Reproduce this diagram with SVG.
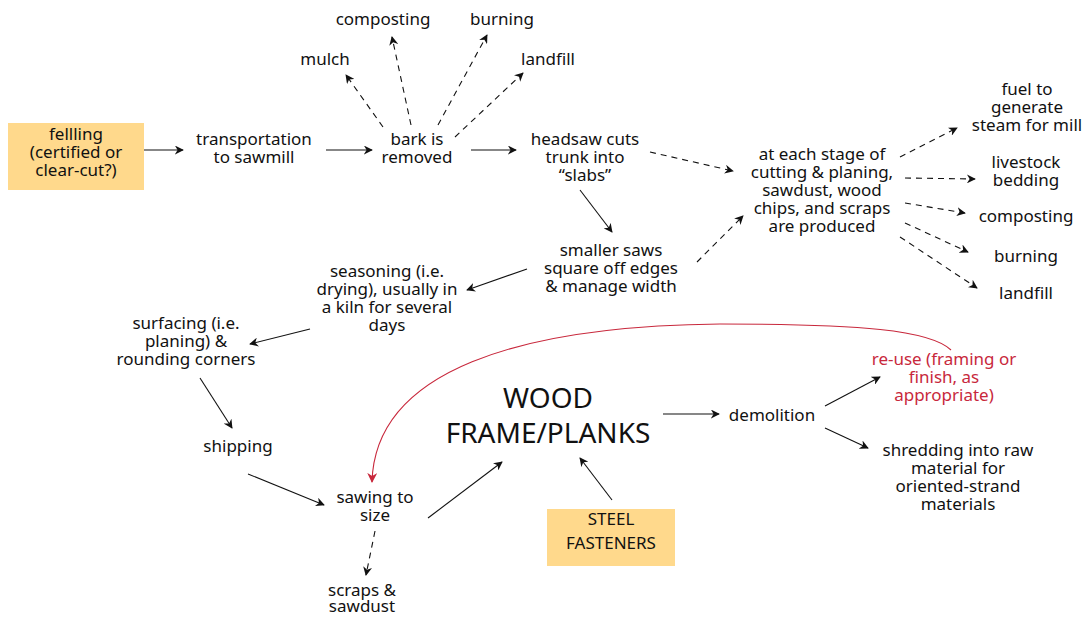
<svg xmlns="http://www.w3.org/2000/svg" width="1088" height="617" viewBox="0 0 1088 617">
<style>
text{font-family:"Noto Sans","Liberation Sans",sans-serif;font-size:17px;fill:#111;text-anchor:middle}
.big{font-size:28px}
.red{fill:#c8283c}
.box{fill:#ffd98c}
.c{stroke:#111;stroke-width:1.1;fill:none;marker-end:url(#ah)}
.d{stroke-dasharray:6 5}
.rc{stroke:#c8283c;stroke-width:1.1;fill:none;marker-end:url(#ahr)}
</style>
<defs>
<marker id="ah" viewBox="0 0 10 10" refX="9" refY="5" markerWidth="9" markerHeight="9" markerUnits="userSpaceOnUse" orient="auto"><path d="M0,0 L10,5 L0,10 L3,5 z" fill="#111"/></marker>
<marker id="ahr" viewBox="0 0 10 10" refX="9" refY="5" markerWidth="10" markerHeight="10" markerUnits="userSpaceOnUse" orient="auto"><path d="M0,0 L10,5 L0,10 L3,5 z" fill="#c8283c"/></marker>
</defs>
<rect width="1088" height="617" fill="#fff"/>
<g id="connectors">
<line class="c" x1="141" y1="150" x2="183" y2="150"/>
<line class="c" x1="326" y1="150" x2="372" y2="150"/>
<line class="c" x1="471" y1="150" x2="516" y2="150"/>
<line class="c d" x1="383" y1="127" x2="346" y2="75"/>
<line class="c d" x1="411" y1="125" x2="392" y2="37"/>
<line class="c d" x1="438" y1="125" x2="487" y2="35"/>
<line class="c d" x1="455" y1="137" x2="523" y2="73"/>
<line class="c d" x1="650" y1="152" x2="733" y2="171"/>
<line class="c" x1="580" y1="190" x2="612" y2="232"/>
<line class="c d" x1="697" y1="262" x2="743" y2="216"/>
<line class="c" x1="527" y1="269" x2="467" y2="290"/>
<line class="c" x1="310" y1="329" x2="250" y2="344"/>
<line class="c" x1="200" y1="378" x2="232" y2="428"/>
<line class="c" x1="248" y1="474" x2="324" y2="505"/>
<line class="c" x1="428" y1="518" x2="502" y2="462"/>
<line class="c d" x1="375" y1="531" x2="366" y2="575"/>
<line class="c" x1="612" y1="500" x2="580" y2="458"/>
<line class="c" x1="663" y1="414" x2="719" y2="414"/>
<line class="c" x1="825" y1="406" x2="880" y2="377"/>
<line class="c" x1="825" y1="428" x2="868" y2="448"/>
<line class="c d" x1="900" y1="157" x2="957" y2="128"/>
<line class="c d" x1="905" y1="178" x2="975" y2="179"/>
<line class="c d" x1="905" y1="203" x2="965" y2="213"/>
<line class="c d" x1="905" y1="223" x2="968" y2="252"/>
<line class="c d" x1="900" y1="237" x2="977" y2="288"/>
<path class="rc" d="M951,350 C930,330 860,324 720,324 C520,326 375,370 372,482"/>
</g>
<g id="felling"><rect class="box" x="8" y="123" width="136" height="67"/><text x="76" y="140">fellling</text><text x="76" y="158">(certified or</text><text x="76" y="176">clear-cut?)</text></g>
<g id="transport"><text x="254" y="145">transportation</text><text x="254" y="163">to sawmill</text></g>
<g id="bark"><text x="417" y="145">bark is</text><text x="417" y="163">removed</text></g>
<g id="mulch"><text x="325" y="65">mulch</text></g>
<g id="composting1"><text x="383" y="25">composting</text></g>
<g id="burning1"><text x="502" y="25">burning</text></g>
<g id="landfill1"><text x="548" y="65">landfill</text></g>
<g id="headsaw"><text x="585" y="145">headsaw cuts</text><text x="585" y="163">trunk into</text><text x="585" y="181">“slabs”</text></g>
<g id="stage"><text x="822" y="160">at each stage of</text><text x="822" y="178">cutting &amp; planing,</text><text x="822" y="196">sawdust, wood</text><text x="822" y="214">chips, and scraps</text><text x="822" y="232">are produced</text></g>
<g id="fuel"><text x="1027" y="95">fuel to</text><text x="1027" y="113">generate</text><text x="1027" y="131">steam for mill</text></g>
<g id="livestock"><text x="1026" y="168">livestock</text><text x="1026" y="186">bedding</text></g>
<g id="composting2"><text x="1026" y="222">composting</text></g>
<g id="burning2"><text x="1026" y="262">burning</text></g>
<g id="landfill2"><text x="1026" y="299">landfill</text></g>
<g id="smaller"><text x="611" y="256">smaller saws</text><text x="611" y="274">square off edges</text><text x="611" y="292">&amp; manage width</text></g>
<g id="seasoning"><text x="387" y="277">seasoning (i.e.</text><text x="387" y="295">drying), usually in</text><text x="387" y="313">a kiln for several</text><text x="387" y="331">days</text></g>
<g id="surfacing"><text x="186" y="329">surfacing (i.e.</text><text x="186" y="347">planing) &amp;</text><text x="186" y="365">rounding corners</text></g>
<g id="shipping"><text x="238" y="452">shipping</text></g>
<g id="sawing"><text x="375" y="503">sawing to</text><text x="375" y="521">size</text></g>
<g id="scraps"><text x="362" y="596">scraps &amp;</text><text x="362" y="612">sawdust</text></g>
<g id="wood"><text class="big" x="548" y="408">WOOD</text><text class="big" x="548" y="443">FRAME/PLANKS</text></g>
<g id="steel"><rect class="box" x="547" y="509" width="128" height="57"/><text x="611" y="525">STEEL</text><text x="611" y="549">FASTENERS</text></g>
<g id="demolition"><text x="772" y="421">demolition</text></g>
<g id="reuse"><text class="red" x="944" y="365">re-use (framing or</text><text class="red" x="944" y="383">finish, as</text><text class="red" x="944" y="401">appropriate)</text></g>
<g id="shredding"><text x="958" y="456">shredding into raw</text><text x="958" y="474">material for</text><text x="958" y="492">oriented-strand</text><text x="958" y="510">materials</text></g>
</svg>
